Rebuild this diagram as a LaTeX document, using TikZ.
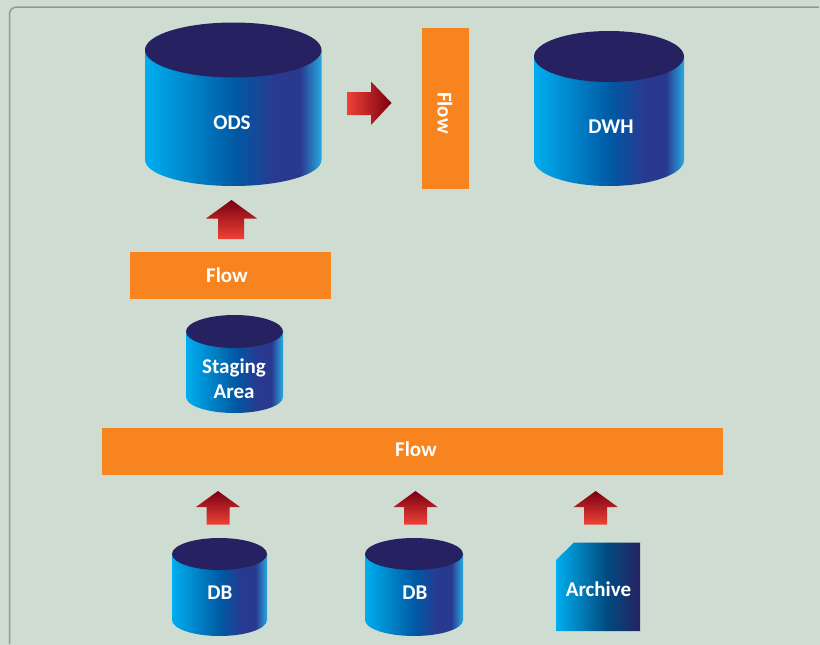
\documentclass[tikz,border=0pt]{standalone}
\usepackage{fontspec}
\setmainfont{Carlito}
\usepackage{tikz}

\definecolor{panelbg}{HTML}{CFDCD2}
\definecolor{panelline}{HTML}{8F9A94}
\definecolor{flowfill}{HTML}{F7841E}
\definecolor{lidfill}{HTML}{262262}
\definecolor{arrowred}{HTML}{EF4136}
\definecolor{arrowdark}{HTML}{7A0010}
\definecolor{cylcyan}{HTML}{00AEEF}
\definecolor{cylblue}{HTML}{0058A2}
\definecolor{cylindigo}{HTML}{2A3990}
\definecolor{cylrim}{HTML}{27AAE1}
\definecolor{archnavy}{HTML}{004B80}

\pgfdeclarehorizontalshading{cylshade}{100bp}{
	color(0bp)=(cylcyan);
	color(25bp)=(cylcyan);
	color(51bp)=(cylblue);
	color(62bp)=(cylindigo);
	color(69bp)=(cylindigo);
	color(75bp)=(cylrim);
	color(100bp)=(cylrim)}
\pgfdeclarehorizontalshading{archshade}{100bp}{
	color(0bp)=(cylcyan);
	color(25bp)=(cylcyan);
	color(55bp)=(archnavy);
	color(75bp)=(lidfill);
	color(100bp)=(lidfill)}

\tikzset{
	flowbar/.style={fill=flowfill,inner sep=0pt},
	boxlabel/.style={text=white,font=\fontsize{21}{25}\selectfont\bfseries,align=center,inner sep=0pt},
	uparrow/.style={bottom color=arrowred,top color=arrowdark,draw=none},
	rightarrow/.style={left color=arrowred,right color=arrowdark,draw=none}
}

% left, right, lid centre, lid radius, base centre, base radius
\newcommand{\cylinderdb}[6]{
	\pgfmathsetmacro{\cylmid}{(#1+#2)/2}
	\pgfmathsetmacro{\cylrad}{(#2-#1)/2}
	\shade[shading=cylshade] (#1,#3) -- (#1,#5) arc(180:0:\cylrad pt and -#6 pt) -- (#2,#3) -- cycle;
	\fill[lidfill] (\cylmid,#3) ellipse (\cylrad pt and #4 pt);
}

\begin{document}
\begin{tikzpicture}[x=1pt,y=-1pt]
	\useasboundingbox (0,0) rectangle (820,645);
	\fill[panelbg] (0,0) rectangle (820,645);
	\draw[panelline,line width=1.5pt,rounded corners=7pt] (819,7) -- (9.5,7) -- (9.5,644);

	% stores
	\cylinderdb{145}{321.5}{50}{27.5}{160}{26}
	\cylinderdb{534}{684}{56.5}{25.5}{160}{26}
	\cylinderdb{186}{283}{331.5}{16.5}{397}{16}
	\cylinderdb{172}{267}{554}{16}{620}{16}
	\cylinderdb{365}{463}{554}{16}{620}{16}
	\shade[shading=archshade] (556,560) -- (574,542.5) -- (640,542.5) -- (640,631) -- (556,631) -- cycle;

	% flows
	\node[flowbar,minimum width=47pt,minimum height=161pt] (flowtop) at (445.5,108.5) {};
	\node[flowbar,minimum width=201pt,minimum height=47pt] (flowmid) at (230.5,275.5) {};
	\node[flowbar,minimum width=621pt,minimum height=47pt] (flowlow) at (412.5,451.5) {};

	% arrows
	\shade[rightarrow] (347,92) -- (371,92) -- (371,81.5) -- (391.5,103) -- (371,125) -- (371,115) -- (347,115) -- cycle;
	\shade[uparrow] (218,239) -- (218,218.5) -- (206,218.5) -- (231.5,200) -- (257,218.5) -- (244,218.5) -- (244,239) -- cycle;
	\foreach \xpos in {218,415.5,595.7}
		\shade[uparrow,xshift=\xpos pt] (-11.5,524.5) -- (-11.5,507) -- (-22,507) -- (0,491) -- (22,507) -- (11.5,507) -- (11.5,524.5) -- cycle;

	% labels
	\node[boxlabel] (ods) at (232,123) {ODS};
	\node[boxlabel] (dwh) at (611,127) {DWH};
	\node[boxlabel,rotate=-90] (flowtoplabel) at (445,113) {Flow};
	\node[boxlabel] (flowmidlabel) at (227,275.5) {Flow};
	\node[boxlabel] (staging) at (234,379) {Staging\\Area};
	\node[boxlabel] (flowlowlabel) at (416,449) {Flow};
	\node[boxlabel] (dba) at (220,592.5) {DB};
	\node[boxlabel] (dbb) at (415,592.5) {DB};
	\node[boxlabel] (archive) at (598.5,589) {Archive};
\end{tikzpicture}
\end{document}
